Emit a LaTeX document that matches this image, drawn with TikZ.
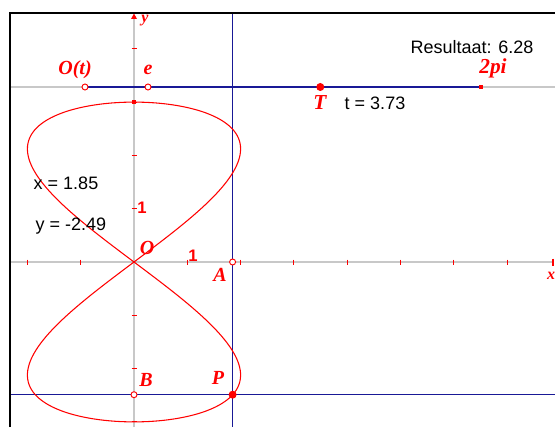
\documentclass[tikz,border=0pt]{standalone}
\usepackage{fontspec}
\setmainfont{Liberation Sans}
\newfontfamily\serifrm{Liberation Serif}
\usetikzlibrary{arrows.meta}
\definecolor{gblue}{RGB}{25,25,150}
\definecolor{gaxis}{RGB}{200,200,200}
\begin{document}
\begin{tikzpicture}[x=0.75pt,y=-0.75pt,
  txt/.style={inner sep=0pt,font=\fontsize{13.5}{15}\selectfont,text=black},
  rlab/.style={inner sep=0pt,text=red,font=\serifrm\fontsize{15}{17}\selectfont\bfseries\itshape},
  rbold/.style={inner sep=0pt,text=red,font=\serifrm\fontsize{16}{18}\selectfont\bfseries\itshape},
  axlab/.style={inner sep=0pt,text=red,font=\serifrm\fontsize{12}{14}\selectfont\bfseries\itshape},
  numlab/.style={inner sep=0pt,text=red,font=\fontsize{12.5}{14}\selectfont\bfseries},
  opendot/.style={circle,draw=red,fill=white,line width=0.7pt,inner sep=0pt,minimum size=4.5pt},
  bigdot/.style={circle,fill=red,inner sep=0pt,minimum size=6pt},
  sqdot/.style={rectangle,fill=red,inner sep=0pt,minimum size=3.2pt},
  axisline/.style={draw=gaxis,line width=0.8pt},
  blueline/.style={draw=gblue,line width=1.1pt},
  tick/.style={draw=red,line width=0.8pt}]
\useasboundingbox (0,0) rectangle (555,427);
\fill[white] (0,0) rectangle (555,427);
% frame
\coordinate (fbl) at (10,427);
\coordinate (ftl) at (10,13);
\coordinate (ftr) at (555,13);
% axes
\coordinate (xl) at (10,262);
\coordinate (xr) at (553,262);
\coordinate (yb) at (134,427);
\coordinate (yt) at (134,15);
\draw[axisline] (xl) -- (xr);
\draw[axisline] (yb) -- (yt);
\foreach \k in {-2,-1,1,2,3,4,5,6,7}{
  \draw[tick] ({134+53.3*\k},259.5) -- ({134+53.3*\k},264.5);}
\foreach \k in {-3,-2,-1,1,2,3,4}{
  \draw[tick] (131.5,{262-53.3*\k}) -- (136.5,{262-53.3*\k});}
\fill[red] (134,13.5) -- (131,19) -- (137,19) -- cycle;
\draw[tick] (553,258.5) -- (553,265.5);
% slider line
\coordinate (sl) at (10,87);
\coordinate (sr) at (555,87);
\draw[axisline] (sl) -- (sr);
% points
\coordinate (Ot) at (85,87);
\coordinate (E) at (148,87);
\coordinate (T) at (320.3,87);
\coordinate (TP) at (481,87);
\coordinate (A) at (232.6,262);
\coordinate (B) at (134,394.7);
\coordinate (P) at (232.6,394.7);
\coordinate (At) at (232.6,13);
\coordinate (Ab) at (232.6,427);
\coordinate (Bl) at (10,394.7);
\coordinate (Br) at (555,394.7);
\draw[blueline] (Ot) -- (TP);
\draw[blueline] (At) -- (Ab);
\draw[blueline] (Bl) -- (Br);
% frame drawn over
\draw[black,line width=1.6pt] (fbl) -- (ftl) -- (ftr);
% curve
\draw[red,line width=0.8pt,domain=0:360,samples=240,variable=\t,smooth]
  plot ({134+106.6*sin(2*\t)},{262-159.9*cos(\t)});
% point markers
\node[opendot] (nOt) at (Ot) {};
\node[opendot] (nE) at (E) {};
\node[bigdot] (nT) at (T) {};
\node[sqdot] (nTP) at (TP) {};
\node[sqdot] (ntop) at (134,102) {};
\node[opendot] (nA) at (A) {};
\node[opendot] (nB) at (B) {};
\node[bigdot] (nP) at (P) {};
% labels
\node[rlab] (lOt) at (75,70) {O(t)};
\node[rlab] (lE) at (148,70) {e};
\node[rbold] (lT) at (320,103) {T};
\node[txt] (tval) at (375,103) {t = 3.73};
\node[txt] (res) at (472,47) {Resultaat: 6.28};
\node[rbold] (l2pi) at (493,68) {2pi};
\node[txt] (xval) at (66,183) {x = 1.85};
\node[txt] (yval) at (71,226) {y = -2.49};
\node[numlab] (ly1) at (142,208) {1};
\node[numlab] (lx1) at (193,256) {1};
\node[rlab] (lO) at (147,248) {O};
\node[rlab] (lA) at (220,275) {A};
\node[rlab] (lB) at (146,380) {B};
\node[rlab] (lP) at (218,378) {P};
\node[axlab] (ly) at (145,21) {y};
\node[axlab] (lx) at (551,276) {x};
\end{tikzpicture}
\end{document}
